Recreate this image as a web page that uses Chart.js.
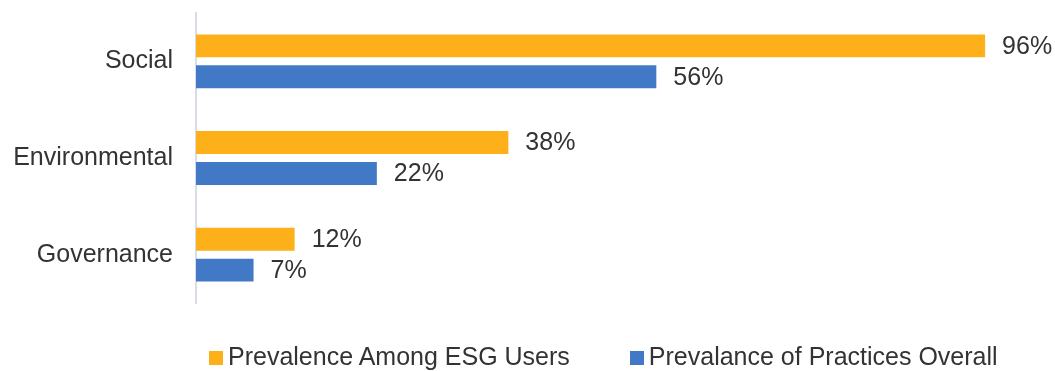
<!DOCTYPE html>
<html>
<head>
<meta charset="utf-8">
<script src="https://cdn.jsdelivr.net/npm/chart.js@4"></script>
<style>
    html, body { margin: 0; padding: 0; background: #fff; }
    #wrap { position: relative; width: 1055px; height: 371px; }
    #legend {
        position: absolute; left: 209px; top: 344px;
        font: 25px "Liberation Sans", Arial, sans-serif; line-height: 25px;
        color: #333; white-space: nowrap;
    }
    #legend .item { display: inline-block; margin-right: 60px; }
    #legend .box { display: inline-block; width: 14px; height: 14px; margin-right: 5px; vertical-align: baseline; }
</style>
</head>
<body>
<div id="wrap">
    <canvas id="esgChart" width="1055" height="371"></canvas>
    <div id="legend"></div>
</div>
<script>
// Chart data
const categories = ['Social', 'Environmental', 'Governance'];
const esgUsers = [96, 38, 12];
const practicesOverall = [56, 22, 7];
const seriesNames = ['Prevalence Among ESG Users', 'Prevalance of Practices Overall'];
const seriesColors = ['#FDB019', '#4179C6'];

const textColor = '#333333';
const fontFamily = '"Liberation Sans", Arial, sans-serif';

// Percent labels at the end of each bar
const barValueLabels = {
    id: 'barValueLabels',
    afterDatasetsDraw(chart) {
        const ctx = chart.ctx;
        ctx.save();
        ctx.font = `25px ${fontFamily}`;
        ctx.fillStyle = textColor;
        ctx.textAlign = 'left';
        ctx.textBaseline = 'middle';
        chart.data.datasets.forEach((ds, i) => {
            chart.getDatasetMeta(i).data.forEach((bar, j) => {
                ctx.fillText(ds.data[j] + '%', bar.x + 17, bar.y + 1);
            });
        });
        ctx.restore();
    }
};

const ctx = document.getElementById('esgChart').getContext('2d');
const esgChart = new Chart(ctx, {
    type: 'bar',
    data: {
        labels: categories,
        datasets: [
            { label: seriesNames[0], data: esgUsers, backgroundColor: seriesColors[0] },
            { label: seriesNames[1], data: practicesOverall, backgroundColor: seriesColors[1] }
        ]
    },
    options: {
        indexAxis: 'y',
        responsive: false,
        animation: false,
        categoryPercentage: 0.64,
        barPercentage: 0.74,
        layout: { padding: { top: 13, bottom: 68, right: 37, left: 0 } },
        plugins: {
            legend: { display: false },
            tooltip: { enabled: false }
        },
        scales: {
            x: { display: false, min: 0, max: 100 },
            y: {
                grid: { display: false, drawTicks: false },
                border: { display: true, color: '#D9DDEA', width: 2 },
                ticks: {
                    color: textColor,
                    padding: 23,
                    font: { family: fontFamily, size: 25 }
                },
                afterFit(scale) {
                    scale.width = 196;
                    // keep the label padding from pushing the plot down
                    scale.paddingTop = 0;
                    scale.paddingBottom = 0;
                }
            }
        }
    },
    plugins: [barValueLabels]
});

// Legend below the plot
const legendEl = document.getElementById('legend');
seriesNames.forEach((name, i) => {
    const item = document.createElement('span');
    item.className = 'item';
    const box = document.createElement('span');
    box.className = 'box';
    box.style.background = seriesColors[i];
    item.appendChild(box);
    item.appendChild(document.createTextNode(name));
    legendEl.appendChild(item);
});
</script>
</body>
</html>
